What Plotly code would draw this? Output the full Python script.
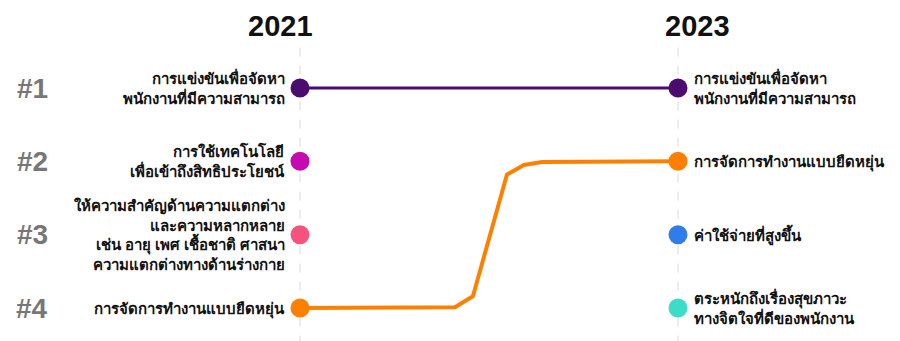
import plotly.graph_objects as go

# ---- data ----
years = [2021, 2023]
ranks = [1, 2, 3, 4]
rank_labels = ["#1", "#2", "#3", "#4"]

labels_2021 = [
    "การแข่งขันเพื่อจัดหา<br>พนักงานที่มีความสามารถ",
    "การใช้เทคโนโลยี<br>เพื่อเข้าถึงสิทธิประโยชน์",
    "ให้ความสำคัญด้านความแตกต่าง<br>และความหลากหลาย<br>เช่น อายุ เพศ เชื้อชาติ ศาสนา<br>ความแตกต่างทางด้านร่างกาย",
    "การจัดการทำงานแบบยืดหยุ่น",
]
colors_2021 = ["#4B0C70", "#C40AB0", "#F5537E", "#FF8000"]

labels_2023 = [
    "การแข่งขันเพื่อจัดหา<br>พนักงานที่มีความสามารถ",
    "การจัดการทำงานแบบยืดหยุ่น",
    "ค่าใช้จ่ายที่สูงขึ้น",
    "ตระหนักถึงเรื่องสุขภาวะ<br>ทางจิตใจที่ดีของพนักงาน",
]
colors_2023 = ["#4B0C70", "#FF8000", "#2F7CEB", "#3CDDC8"]

# connecting paths
purple_x = [2021, 2023]
purple_y = [1, 1]
orange_x = [2021, 2021.73, 2021.82, 2021.915, 2022.095, 2022.185, 2022.28, 2023]
orange_y = [4, 4, 3.99, 3.84, 2.18, 2.05, 2.01, 2]

fig = go.Figure()

# dashed guides
for yr in years:
    fig.add_shape(type="line", xref="x", yref="y", x0=yr, x1=yr, y0=0.45, y1=4.5,
                  line=dict(color="#D9D9D9", width=1, dash="dash"), layer="below")

fig.add_trace(go.Scatter(x=purple_x, y=purple_y, mode="lines",
                         line=dict(color="#4B0C70", width=3), hoverinfo="skip"))
fig.add_trace(go.Scatter(x=orange_x, y=orange_y, mode="lines",
                         line=dict(color="#FF8000", width=4), hoverinfo="skip"))

fig.add_trace(go.Scatter(x=[2021] * 4, y=ranks, mode="markers",
                         marker=dict(size=19, color=colors_2021), hoverinfo="skip"))
fig.add_trace(go.Scatter(x=[2023] * 4, y=ranks, mode="markers",
                         marker=dict(size=19, color=colors_2023), hoverinfo="skip"))

px_per_year = 189.0
px_per_rank = 73.33

def xpx(dx):
    return dx / px_per_year

def ypx(dy):
    return dy / px_per_rank

def bold_lines(t):
    return "<b>" + t.replace("<br>", "</b><br><b>") + "</b>"

thai_font = "Noto Sans, sans-serif"
ann = []
for r, t in zip(ranks, labels_2021):
    ann.append(dict(x=2021 - xpx(13), y=r, text=bold_lines(t),
                    xanchor="right", yanchor="middle",
                    align="right", showarrow=False,
                    font=dict(family=thai_font, size=15, color="#111111")))
for r, t in zip(ranks, labels_2023):
    ann.append(dict(x=2023 + xpx(14), y=r, text=bold_lines(t),
                    xanchor="left", yanchor="middle",
                    align="left", showarrow=False,
                    font=dict(family=thai_font, size=15, color="#111111")))
for r, t in zip(ranks, rank_labels):
    ann.append(dict(x=2021 - xpx(268), y=r, text="<b>" + t + "</b>", xanchor="center",
                    yanchor="middle", showarrow=False,
                    font=dict(family="Liberation Sans, Arial", size=28, color="#777777")))
ann.append(dict(x=2021 - xpx(20), y=1 - ypx(62), text="<b>2021</b>", xanchor="center",
                yanchor="middle", showarrow=False,
                font=dict(family="Liberation Sans, Arial", size=29, color="#111111")))
ann.append(dict(x=2023 + xpx(19), y=1 - ypx(62), text="<b>2023</b>", xanchor="center",
                yanchor="middle", showarrow=False,
                font=dict(family="Liberation Sans, Arial", size=29, color="#111111")))

fig.update_layout(
    width=900, height=341,
    margin=dict(l=0, r=0, t=0, b=0),
    paper_bgcolor="white", plot_bgcolor="white",
    showlegend=False,
    annotations=ann,
    xaxis=dict(range=[2021 - 300 / px_per_year, 2021 + 600 / px_per_year],
               visible=False, fixedrange=True),
    yaxis=dict(range=[4 + 33 / px_per_rank, 1 - 88 / px_per_rank],
               visible=False, fixedrange=True),
)

fig.write_html("out.html")
